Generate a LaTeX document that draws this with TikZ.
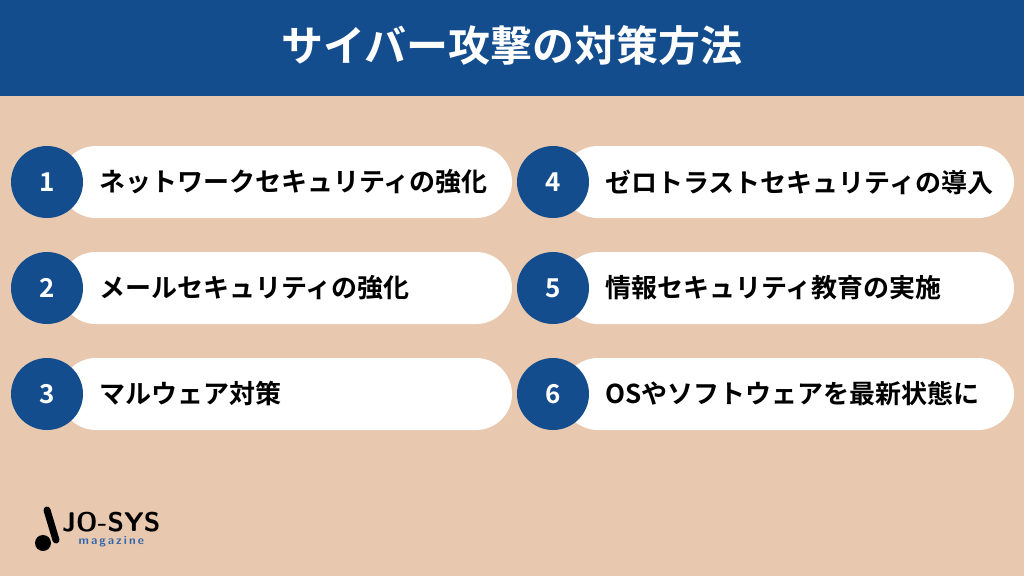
\documentclass[tikz,border=0pt]{standalone}
\usepackage{fontspec}
\newfontfamily\jpfont{Noto Sans CJK JP}[BoldFont={* Bold}]
\usetikzlibrary{positioning}
\definecolor{hdrblue}{RGB}{19,77,142}
\definecolor{bgbeige}{RGB}{232,201,176}
\definecolor{logoblue}{RGB}{52,102,170}
\tikzset{
  pill/.style={fill=white, rounded corners=36pt, minimum width=452pt, minimum height=72pt, inner sep=0pt},
  numdot/.style={circle, fill=hdrblue, minimum size=72pt, inner sep=0pt, text=white, font=\jpfont\bfseries\fontsize{26}{26}\selectfont},
  pilltext/.style={anchor=west, font=\jpfont\bfseries\fontsize{26}{26}\selectfont, text=black, inner sep=0pt}
}
\begin{document}
\begin{tikzpicture}[x=1pt,y=1pt,yscale=-1]
	% background and header
	\fill[bgbeige] (0,0) rectangle (1024,576);
	\fill[hdrblue] (0,0) rectangle (1024,96);
	\node[text=white, font=\jpfont\bfseries\fontsize{42}{42}\selectfont] (title) at (512,46) {サイバー攻撃の対策方法};
	
	% left column
	\node[pill] (p1) at (286,182) {};
	\node[numdot] (n1) at (47,182) {1};
	\node[pilltext] (t1) at (99,182) {ネットワークセキュリティの強化};
	\node[pill] (p2) at (286,288) {};
	\node[numdot] (n2) at (47,288) {2};
	\node[pilltext] (t2) at (99,288) {メールセキュリティの強化};
	\node[pill] (p3) at (286,394) {};
	\node[numdot] (n3) at (47,394) {3};
	\node[pilltext] (t3) at (99,394) {マルウェア対策};
	
	% right column
	\node[pill] (p4) at (788,182) {};
	\node[numdot] (n4) at (553,182) {4};
	\node[pilltext] (t4) at (605,182) {ゼロトラストセキュリティの導入};
	\node[pill] (p5) at (788,288) {};
	\node[numdot] (n5) at (553,288) {5};
	\node[pilltext] (t5) at (605,288) {情報セキュリティ教育の実施};
	\node[pill] (p6) at (788,394) {};
	\node[numdot] (n6) at (553,394) {6};
	\node[pilltext] (t6) at (605,394) {OSやソフトウェアを最新状態に};
	
	% logo
	\draw[line width=7pt, line cap=round] (47,510) -- (56,540);
	\fill (43,543) circle (8);
	\node[anchor=west, font=\sffamily\bfseries\fontsize{27}{27}\selectfont, inner sep=0pt] (logo) at (62,522) {JO-SYS};
	\node[below=4pt of logo, font=\sffamily\bfseries\fontsize{12}{12}\selectfont, text=logoblue, inner sep=0pt] (mag) {m\,a\,g\,a\,z\,i\,n\,e};
\end{tikzpicture}
\end{document}
